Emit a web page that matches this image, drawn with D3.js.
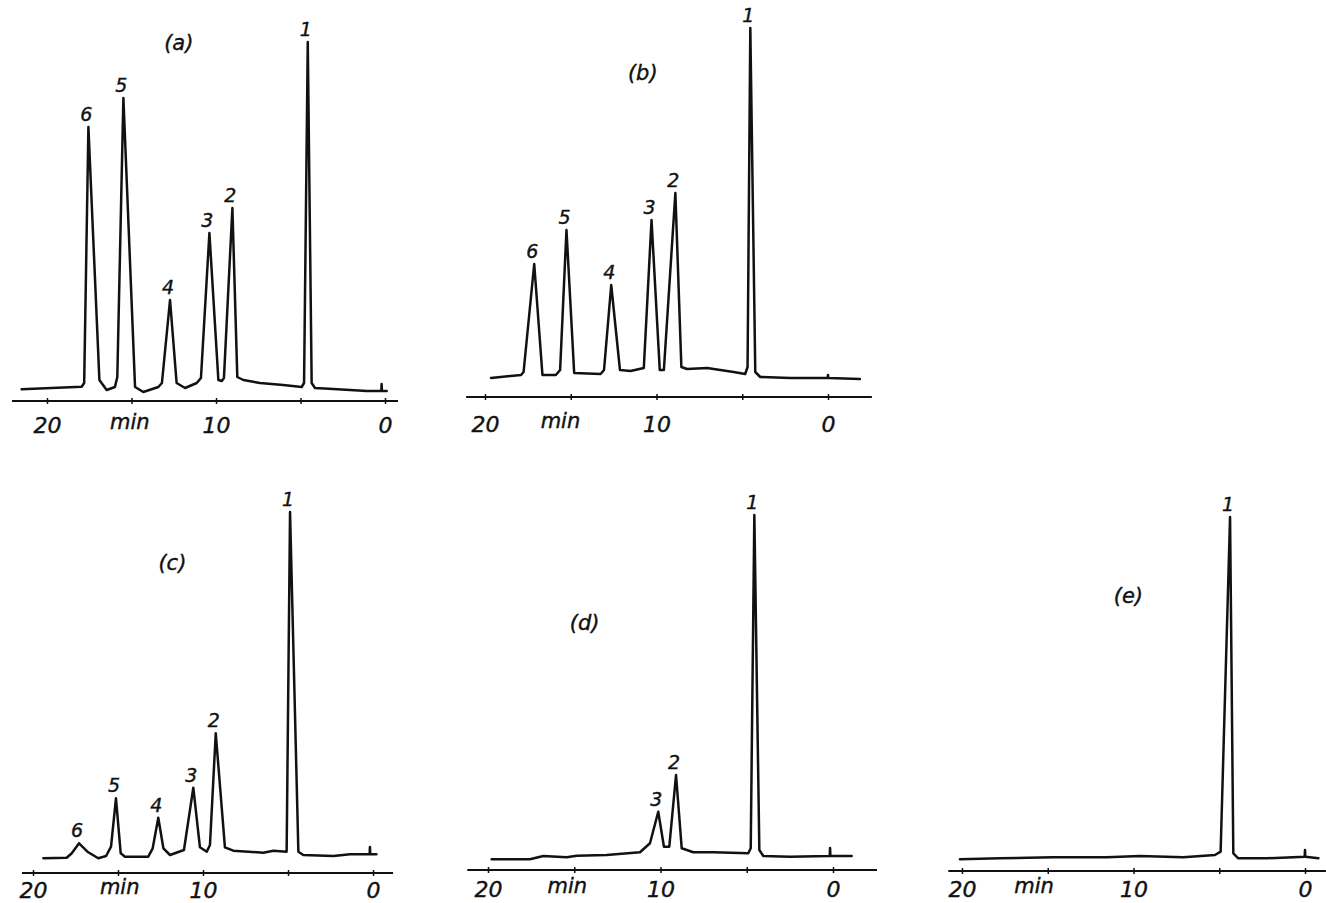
<!doctype html>
<html>
<head>
<meta charset="utf-8">
<style>
  body { margin: 0; background: #fff; }
  svg { display: block; background: #fff; }
  .trace { fill: none; stroke: #111; stroke-width: 2.5; stroke-linejoin: round; stroke-linecap: round; }
  .axisline { stroke: #111; stroke-width: 2; }
  .tick line { stroke: #111; stroke-width: 1.5; }
  .tick text, .lbl { font-family: "DejaVu Sans", sans-serif; font-style: italic; fill: #111; stroke: #111; stroke-width: 0.4; }
</style>
</head>
<body>
<svg id="chart" width="1326" height="903"></svg>
<script src="https://cdn.jsdelivr.net/npm/d3@7/dist/d3.min.js"></script>
<script>
// chromatogram traces: [retention time (min), detector response]
const traceA = [
  [21.5, 11.7], [17.95, 14.3], [17.8, 18], [17.55, 274], [16.9, 21], [16.47, 11], [15.98, 14],
  [15.84, 24], [15.48, 303], [14.79, 14], [14.3, 9], [13.41, 14], [13.2, 18], [12.72, 101],
  [12.33, 18], [11.83, 13], [11.14, 18], [10.89, 23], [10.39, 168], [9.86, 21], [9.66, 20],
  [9.53, 23], [9.03, 193], [8.74, 24], [8.38, 21], [7.4, 18], [6.02, 16], [4.93, 14], [4.79, 18],
  [4.57, 359], [4.34, 18], [4.14, 13], [3.06, 12], [1.08, 10], [0.22, 10], [0.2, 17], [0.18, 10], [-0.1, 10]
];
const traceB = [
  [19.65, 19], [17.9, 22], [17.75, 25], [17.13, 133], [16.65, 22], [15.87, 22], [15.62, 27],
  [15.25, 167], [14.8, 24], [13.26, 23], [13.06, 27], [12.64, 112], [12.13, 27], [11.51, 26],
  [10.74, 29], [10.29, 177], [9.81, 27], [9.57, 27], [8.9, 204], [8.55, 30], [8.22, 28],
  [7.05, 29], [5.5, 25], [4.83, 23], [4.69, 30], [4.53, 369], [4.24, 25], [3.95, 20],
  [2.2, 19], [0.02, 19], [0, 22], [-0.02, 19], [-1.86, 18]
];
const traceC = [
  [19.39, 14.7], [18.02, 15.3], [17.72, 19.7], [17.29, 29.7], [16.8, 21.3], [16.16, 14.7],
  [15.7, 17], [15.41, 26.3], [15.12, 74.7], [14.84, 19.7], [14.59, 16.3], [13.22, 16.3],
  [12.96, 24.7], [12.63, 55.3], [12.33, 24.7], [11.94, 18], [11.12, 23], [10.57, 85.3],
  [10.18, 25.7], [9.78, 21.3], [9.59, 28], [9.25, 139.7], [8.71, 25.7], [8.22, 22.3],
  [6.45, 20.3], [5.86, 22.3], [5.08, 21.3], [4.88, 361], [4.39, 21.3], [4.1, 18], [2.33, 17],
  [1.35, 18.7], [0.2, 18.7], [0.18, 26], [0.16, 18.7], [-0.2, 18.7]
];
const traceD = [
  [19.79, 10.7], [17.57, 10.7], [16.79, 14], [15.44, 12.7], [14.86, 14.3], [13.12, 15],
  [11.19, 17.7], [10.61, 26.7], [10.13, 58.3], [9.8, 23.3], [9.49, 23.3], [9.1, 95],
  [8.77, 21.7], [8.1, 17.7], [6.94, 17.7], [4.91, 16.7], [4.77, 21.7], [4.56, 355], [4.27, 20],
  [4.04, 14], [2.49, 13.3], [0.19, 14], [0.17, 22], [0.15, 14], [-1.08, 14]
];
const traceE = [
  [20.12, 11.7], [17.78, 12.7], [14.68, 13.7], [11.56, 13.7], [9.62, 15], [7.1, 13.7],
  [5.25, 16], [4.92, 19.3], [4.37, 354], [4.18, 17.7], [3.89, 12.7], [2.23, 12.7],
  [0.02, 14.3], [0, 21], [-0.02, 14.3], [-0.78, 12.7]
];

// peak numbers and their retention times
const peaksA = [["1", 4.57], ["2", 9.03], ["3", 10.39], ["4", 12.72], ["5", 15.48], ["6", 17.55]];
const peaksB = [["1", 4.53], ["2", 8.9], ["3", 10.29], ["4", 12.64], ["5", 15.25], ["6", 17.13]];
const peaksC = [["1", 4.88], ["2", 9.25], ["3", 10.57], ["4", 12.63], ["5", 15.12], ["6", 17.29]];
const peaksD = [["1", 4.56], ["2", 9.1], ["3", 10.13]];
const peaksE = [["1", 4.37]];

const panelNames = ["(a)", "(b)", "(c)", "(d)", "(e)"];
const timeTicks = [20, 15, 10, 5, 0];
const timeLabels = [20, 10, 0];

// layout of each panel (pixel position of 20 and 0 min, time axis height, axis extent)
const layout = [
  { trace: traceA, peaks: peaksA, x20: 47,  x0: 385,  axisY: 401, ext: [22.07, -0.77], pad: 13, minT: 15.1, name: [12.2, 42] },
  { trace: traceB, peaks: peaksB, x20: 485, x0: 828,  axisY: 397, ext: [21.1, -2.56],  pad: 16, minT: 15.6, name: [10.8, 72] },
  { trace: traceC, peaks: peaksC, x20: 33,  x0: 373,  axisY: 873, ext: [20.65, -1.18], pad: 6,  minT: 14.9, name: [11.8, 562] },
  { trace: traceD, peaks: peaksD, x20: 488, x0: 833,  axisY: 870, ext: [21.2, -2.55],  pad: 8,  minT: 15.4, name: [14.4, 622] },
  { trace: traceE, peaks: peaksE, x20: 962, x0: 1305, axisY: 871, ext: [20.8, -1.22],  pad: 7,  minT: 15.8, name: [10.3, 595] }
];

const svg = d3.select("#chart");

layout.forEach(function (p, i) {
  let x = d3.scaleLinear().domain([20, 0]).range([p.x20, p.x0]);
  let y = d3.scaleLinear().domain([0, 400]).range([p.axisY, p.axisY - 400]);
  let g = svg.append("g");

  // time axis
  g.append("line")
    .attr("class", "axisline")
    .attr("x1", x(p.ext[0])).attr("x2", x(p.ext[1]))
    .attr("y1", p.axisY).attr("y2", p.axisY);

  let ax = g.append("g")
    .attr("transform", "translate(0," + p.axisY + ")")
    .call(d3.axisBottom(x)
      .tickValues(timeTicks)
      .tickSizeInner(3)
      .tickSizeOuter(0)
      .tickPadding(p.pad)
      .tickFormat(d => timeLabels.includes(d) ? d : ""));
  ax.select(".domain").remove();
  ax.selectAll(".tick line").attr("y1", -3);
  ax.selectAll(".tick text").attr("font-size", 22).attr("font-family", null);

  g.append("text")
    .attr("class", "lbl")
    .attr("x", x(p.minT))
    .attr("y", p.axisY + p.pad)
    .attr("dy", "0.71em")
    .attr("text-anchor", "middle")
    .attr("font-size", 21)
    .text("min");

  // chromatogram
  let line = d3.line()
    .x(d => x(d[0]))
    .y(d => y(d[1]))
    .curve(d3.curveLinear);
  g.append("path")
    .datum(p.trace)
    .attr("class", "trace")
    .attr("d", line);

  // peak numbers
  p.peaks.forEach(function (pk) {
    let top = p.trace.find(d => d[0] === pk[1]);
    g.append("text")
      .attr("class", "lbl")
      .attr("x", x(pk[1]) - 2)
      .attr("y", y(top[1]) - 6)
      .attr("text-anchor", "middle")
      .attr("font-size", 19)
      .text(pk[0]);
  });

  // panel name
  g.append("text")
    .attr("class", "lbl")
    .attr("x", x(p.name[0]))
    .attr("y", p.name[1] + 8)
    .attr("text-anchor", "middle")
    .attr("font-size", 21)
    .text(panelNames[i]);
});
</script>
</body>
</html>
